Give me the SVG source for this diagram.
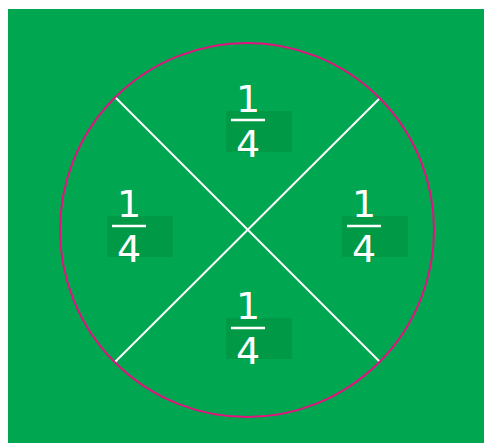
<svg xmlns="http://www.w3.org/2000/svg" width="484" height="443" viewBox="0 0 484 443">
<style>
.bg{fill:#00A650}
.box{fill:#009A46}
.num{font-family:"DejaVu Sans","Liberation Sans",sans-serif;font-size:38px;fill:#FFFFFF;text-anchor:middle}
.bar{stroke:#FFFFFF;stroke-width:2.5}
.div{stroke:#FFFFFF;stroke-width:2}
</style>
<rect x="0" y="0" width="484" height="443" fill="#FFFFFF"/>
<rect class="bg" x="8" y="9" width="476" height="434"/>
<g id="connectors">
<line class="div" x1="115" y1="97" x2="380" y2="362"/>
<line class="div" x1="380" y1="98" x2="115" y2="362"/>
</g>
<g id="circle">
<circle cx="247" cy="230" r="187" fill="none" stroke="#E2137F" stroke-width="2"/>
</g>
<g id="top">
<rect class="box" x="226" y="111" width="66" height="41"/>
<line class="bar" x1="231" y1="120" x2="265" y2="120"/>
<text class="num" x="248" y="112">1</text>
<text class="num" x="248" y="157">4</text>
</g>
<g id="left">
<rect class="box" x="107" y="216" width="66" height="41"/>
<line class="bar" x1="112" y1="226" x2="146" y2="226"/>
<text class="num" x="129" y="217">1</text>
<text class="num" x="129" y="262">4</text>
</g>
<g id="right">
<rect class="box" x="342" y="216" width="66" height="41"/>
<line class="bar" x1="347" y1="226" x2="381" y2="226"/>
<text class="num" x="364" y="217">1</text>
<text class="num" x="364" y="262">4</text>
</g>
<g id="bottom">
<rect class="box" x="226" y="318" width="66" height="41"/>
<line class="bar" x1="231" y1="328" x2="265" y2="328"/>
<text class="num" x="248" y="319">1</text>
<text class="num" x="248" y="364">4</text>
</g>
</svg>
